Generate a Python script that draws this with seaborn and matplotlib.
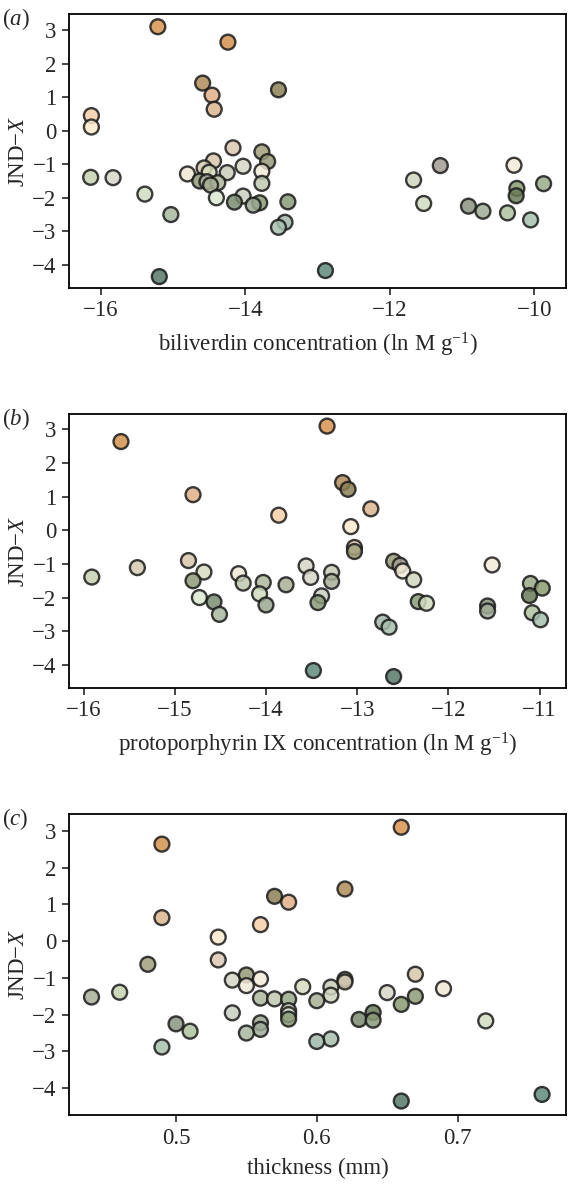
import pandas as pd
import matplotlib.pyplot as plt
import seaborn as sns

# one entry per egg: JND-X, fill colour and the three predictors
jnd = [3.10, 2.64, 1.42, 1.22, 1.06, 0.64, 0.45, 0.11, -0.51, -0.63,
       -0.92, -0.90, -1.04, -1.03, -1.06, -1.11, -1.21, -1.25, -1.29, -1.24,
       -1.39, -1.40, -1.47, -1.50, -1.52, -1.55, -1.57, -1.58, -1.62, -1.72,
       -1.89, -1.94, -1.95, -2.00, -2.13, -2.15, -2.12, -2.17, -2.22, -2.25,
       -2.40, -2.45, -2.50, -2.66, -2.73, -2.88, -4.17, -4.35]

egg_colors = ['#d8934f', '#d4914f', '#b08c58', '#8c8055', '#e2b088', '#dcb590',
              '#f6cfa8', '#fbeacc', '#dcc8b4', '#a0a07a', '#999a78', '#d8c6ac',
              '#a29c92', '#f4ead8', '#d6d6c6', '#d4cab2', '#f2ead8', '#c8ccb8',
              '#efe8d6', '#d8dcc0', '#c6d2ae', '#d8d6c8', '#d0d6c0', '#8e9a78',
              '#a8b098', '#b0b89c', '#c0c8b0', '#9aaa88', '#a8b094', '#8a9a70',
              '#d0dcc0', '#6a7a58', '#c8d0c0', '#dde8d0', '#7a8a70', '#8a9a78',
              '#8a9a78', '#d0dcc0', '#9aa890', '#8a9480', '#a0ac98', '#b0c4a0',
              '#a8b8a0', '#a8c0b0', '#a0b8a8', '#a8c0b0', '#5f8a7a', '#567868']

biliverdin = [-15.21, -14.24, -14.59, -13.54, -14.46, -14.43, -16.13, -16.13, -14.17, -13.77,
              -13.69, -14.44, -11.30, -10.28, -14.03, -14.57, -13.77, -14.25, -14.80, -14.50,
              -16.14, -15.83, -11.67, -14.63, -14.53, -14.38, -13.77, -9.87, -14.48, -10.24,
              -15.39, -10.25, -14.03, -14.40, -14.15, -13.80, -13.41, -11.53, -13.89, -10.91,
              -10.71, -10.37, -15.03, -10.05, -13.45, -13.54, -12.89, -15.19]

protoporphyrin = [-13.33, -15.59, -13.16, -13.10, -14.80, -12.85, -13.86, -13.07, -13.03, -13.03,
                  -12.60, -14.85, -12.53, -11.52, -13.56, -15.41, -12.50, -13.28, -14.30, -14.68,
                  -15.91, -13.51, -12.38, -14.80, -13.28, -14.03, -14.25, -11.10, -13.78, -10.97,
                  -14.07, -11.11, -13.39, -14.73, -14.57, -13.43, -12.33, -12.24, -14.00, -11.57,
                  -11.57, -11.08, -14.51, -10.99, -12.72, -12.65, -13.48, -12.60]

thickness = [0.66, 0.49, 0.62, 0.57, 0.58, 0.49, 0.56, 0.53, 0.53, 0.48,
             0.55, 0.67, 0.62, 0.56, 0.54, 0.62, 0.55, 0.61, 0.69, 0.59,
             0.46, 0.65, 0.61, 0.67, 0.44, 0.56, 0.57, 0.58, 0.60, 0.66,
             0.58, 0.64, 0.54, 0.58, 0.63, 0.64, 0.58, 0.72, 0.56, 0.50,
             0.56, 0.51, 0.55, 0.61, 0.60, 0.49, 0.76, 0.66]

yticks = [3, 2, 1, 0, -1, -2, -3, -4]

df = pd.DataFrame({'egg': range(len(jnd)), 'jnd': jnd, 'biliverdin': biliverdin,
                   'protoporphyrin': protoporphyrin, 'thickness': thickness})
palette = dict(zip(df['egg'], egg_colors))

sns.set_style('ticks')
plt.rcParams['font.family'] = ['Liberation Serif', 'DejaVu Serif']
plt.rcParams['mathtext.fontset'] = 'custom'
plt.rcParams['mathtext.rm'] = 'Liberation Serif'
plt.rcParams['mathtext.it'] = 'Liberation Serif:italic'

fig = plt.figure(figsize=(5.79, 11.88), dpi=100)
W, H = 579, 1188

# (left, top, right, bottom) in pixels
panels = [
    ('biliverdin', r'biliverdin concentration (ln M g$^{-1}$)', (69, 14, 566, 288),
     (-16.44, -9.56), [-16, -14, -12, -10], (-4.69, 3.48), '(a)'),
    ('protoporphyrin', r'protoporphyrin IX concentration (ln M g$^{-1}$)', (69, 414, 566, 688),
     (-16.16, -10.71), [-16, -15, -14, -13, -12, -11], (-4.69, 3.46), '(b)'),
    ('thickness', 'thickness (mm)', (69, 814, 566, 1115),
     (0.424, 0.777), [0.5, 0.6, 0.7], (-4.73, 3.46), '(c)'),
]

def minus(v):
    return f'{v:g}'.replace('-', '\u2212')

for col, xlabel, (l, t, r, b), xlim, xticks, ylim, tag in panels:
    ax = fig.add_axes([l / W, 1 - b / H, (r - l) / W, (b - t) / H])
    sns.scatterplot(data=df, x=col, y='jnd', hue='egg', palette=palette, legend=False,
                    s=115, edgecolor='#1a1a1a', linewidth=1.7, alpha=0.85, ax=ax)
    ax.set_xlim(xlim)
    ax.set_ylim(ylim)
    ax.set_xticks(xticks)
    ax.set_yticks(yticks)
    ax.set_xticklabels([minus(v) for v in xticks])
    ax.set_yticklabels([minus(v) for v in yticks])
    ax.tick_params(labelsize=16.5, length=5, width=1.2, direction='out', pad=4)
    for sp in ax.spines.values():
        sp.set_linewidth(1.3)
        sp.set_color('black')
    ax.set_xlabel(xlabel, fontsize=16.5, labelpad=7)
    ax.set_ylabel(r'JND$-$$\mathit{X}$', fontsize=16.5, labelpad=2)
    fig.text(2 / W, 1 - (t - 8) / H, '(' + r'$\mathit{' + tag[1] + '}$' + ')',
             fontsize=16.5, va='top', ha='left')

fig.savefig('out.png', dpi=100)
